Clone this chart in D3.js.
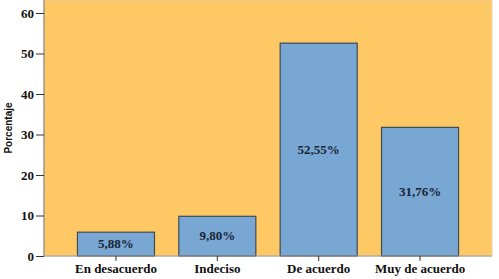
<!DOCTYPE html>
<html>
<head>
<meta charset="utf-8">
<script src="https://cdn.jsdelivr.net/npm/d3@7"></script>
<style>
  body { margin: 0; background: #fff; }
  svg { display: block; }
  .serif { font-family: 'Liberation Serif', 'Times New Roman', serif; }
</style>
</head>
<body>
<script>
'use strict'

var categories = ['En desacuerdo', 'Indeciso', 'De acuerdo', 'Muy de acuerdo']
var values = [5.88, 9.80, 52.55, 31.76]
var labels = ['5,88%', '9,80%', '52,55%', '31,76%']
var yTicks = [0, 10, 20, 30, 40, 50, 60]

var width = 499
var height = 279
var margin = { top: 0, right: 7, bottom: 23, left: 44 }

var svg = d3.select('body').append('svg')
  .attr('width', width)
  .attr('height', height)

var x = d3.scaleBand()
  .domain(categories)
  .range([margin.left, width - margin.right])
  .paddingInner(0.24)
  .paddingOuter(0.33)

var y = d3.scaleLinear()
  .domain([0, 60])
  .range([256, 13])

// plot background
svg.append('rect')
  .attr('x', margin.left)
  .attr('y', 0)
  .attr('width', width - margin.right - margin.left)
  .attr('height', y(0))
  .attr('fill', '#fec964')
  .attr('stroke', '#e6d3b0')
  .attr('stroke-width', 1)

svg.selectAll('rect.bar')
  .data(values)
  .enter().append('rect')
  .attr('class', 'bar')
  .attr('x', function (d, i) { return x(categories[i]) })
  .attr('y', function (d) { return y(d) })
  .attr('width', x.bandwidth())
  .attr('height', function (d) { return y(0) - y(d) })
  .attr('fill', '#79a7d4')
  .attr('stroke', '#3f4a55')
  .attr('stroke-width', 1.2)

svg.selectAll('text.val')
  .data(values)
  .enter().append('text')
  .attr('class', 'val serif')
  .attr('x', function (d, i) { return x(categories[i]) + x.bandwidth() / 2 })
  .attr('y', function (d) { return (y(d) + y(0)) / 2 + 4 })
  .attr('text-anchor', 'middle')
  .attr('font-weight', 'bold')
  .attr('font-size', 13)
  .attr('fill', '#1a2433')
  .text(function (d, i) { return labels[i] })

var yAxis = svg.append('g')
  .attr('transform', 'translate(' + margin.left + ',0)')
  .call(d3.axisLeft(y).tickValues(yTicks).tickSize(8).tickPadding(2).tickSizeOuter(0))
yAxis.attr('font-family', null)
yAxis.select('.domain').attr('stroke', '#777').attr('d', 'M0,0V' + y(0))
yAxis.selectAll('.tick line').attr('stroke', '#333')
yAxis.selectAll('.tick text')
  .attr('class', 'serif')
  .attr('font-weight', 'bold')
  .attr('font-size', 13)
  .attr('fill', '#111')

var xAxis = svg.append('g')
  .attr('transform', 'translate(0,' + y(0) + ')')
  .call(d3.axisBottom(x).tickSize(5).tickPadding(3).tickSizeOuter(0))
xAxis.attr('font-family', null)
xAxis.select('.domain').attr('stroke', '#999').attr('d', 'M' + margin.left + ',0H' + (width - margin.right))
xAxis.selectAll('.tick line').attr('stroke', '#333')
xAxis.selectAll('.tick text')
  .attr('class', 'serif')
  .attr('font-weight', 'bold')
  .attr('font-size', 13)
  .attr('fill', '#111')

svg.append('text')
  .attr('transform', 'translate(12,' + 128 + ') rotate(-90)')
  .attr('text-anchor', 'middle')
  .attr('font-family', 'Liberation Sans, Arial, sans-serif')
  .attr('font-weight', 'bold')
  .attr('font-size', 10)
  .attr('fill', '#111')
  .text('Porcentaje')
</script>
</body>
</html>
